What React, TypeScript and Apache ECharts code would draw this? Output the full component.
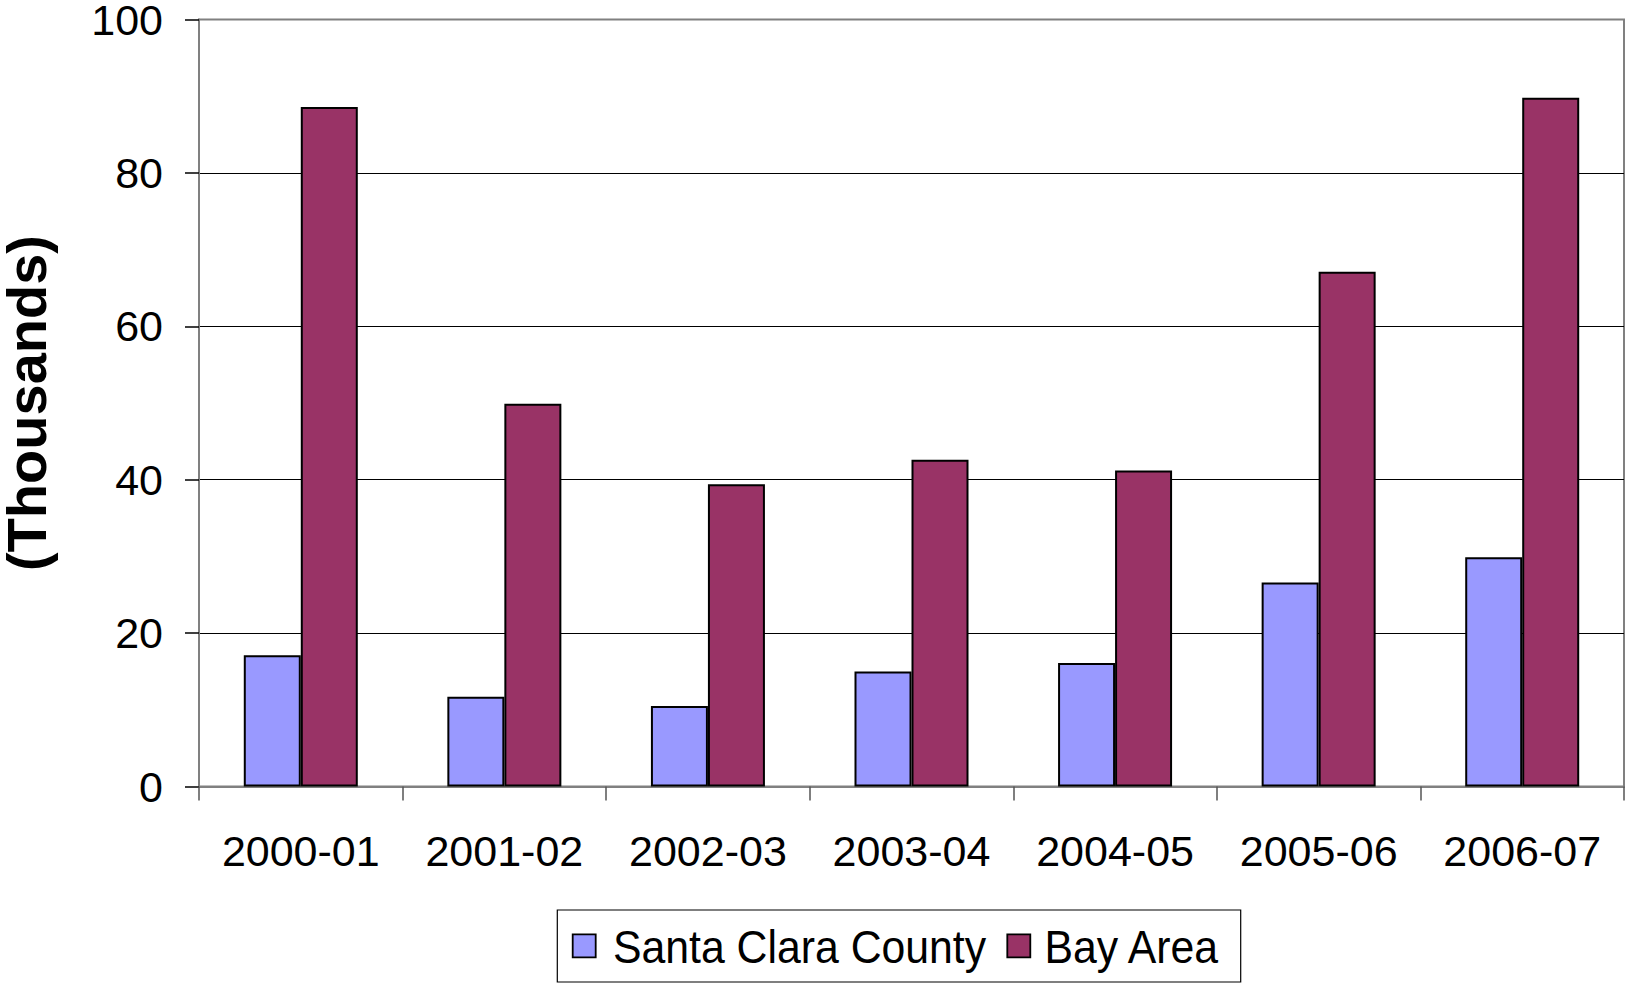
import React, { useEffect, useRef } from "react";
import * as echarts from "echarts";

const categories = ["2000-01", "2001-02", "2002-03", "2003-04", "2004-05", "2005-06", "2006-07"];
const santaClara = [17.1, 11.7, 10.5, 15.0, 16.1, 26.6, 29.9];
const bayArea = [88.6, 49.9, 39.4, 42.6, 41.2, 67.1, 89.8];
const seriesNames = ["Santa Clara County", "Bay Area"];
const seriesColors = ["#9999FF", "#993366"];
const yTicks = { min: 0, max: 100, interval: 20 };

const FONT = "'Liberation Sans', Arial, sans-serif";

export default function App() {
  const ref = useRef<HTMLDivElement>(null);
  useEffect(() => {
    if (!ref.current) return;
    const chart = echarts.init(ref.current, null, { renderer: "svg" });

    // Legend drawn as graphic elements
    const legendItems = [
      { iconX: 572.7, textX: 613 },
      { iconX: 1007.3, textX: 1044.5 },
    ];
    const legendGraphic: any[] = [
      {
        type: "rect",
        shape: { x: 557.3, y: 910, width: 683.4, height: 72 },
        style: { fill: "#fff", stroke: "#000", lineWidth: 1.2 },
        z: 10,
      },
    ];
    seriesNames.forEach((name, i) => {
      legendGraphic.push({
        type: "rect",
        shape: { x: legendItems[i].iconX, y: 934.3, width: 23, height: 23 },
        style: { fill: seriesColors[i], stroke: "#000", lineWidth: 1.8 },
        z: 11,
      });
      legendGraphic.push({
        type: "text",
        x: legendItems[i].textX,
        y: 947,
        scaleX: 0.94,
        style: {
          text: name,
          fill: "#000",
          font: `45.5px ${FONT}`,
          align: "left",
          verticalAlign: "middle",
        },
        z: 11,
      });
    });

    chart.setOption({
      animation: false,
      backgroundColor: "#ffffff",
      textStyle: { fontFamily: FONT },
      grid: {
        left: 199,
        top: 19.5,
        right: 1,
        height: 767,
        show: true,
        borderColor: "#808080",
        borderWidth: 2,
        containLabel: false,
        outerBoundsMode: "none",
      },
      graphic: legendGraphic,
      xAxis: {
        type: "category",
        data: categories,
        axisLine: { show: true, lineStyle: { color: "#808080", width: 2 } },
        axisTick: { show: true, length: 14, lineStyle: { color: "#555", width: 1.5 } },
        axisLabel: { fontSize: 43, color: "#000", margin: 43, interval: 0, fontFamily: FONT },
        splitLine: { show: false },
      },
      yAxis: {
        type: "value",
        min: yTicks.min,
        max: yTicks.max,
        interval: yTicks.interval,
        name: "(Thousands)",
        nameLocation: "middle",
        nameRotate: 90,
        nameGap: 144.5,
        nameTextStyle: { fontSize: 56, fontWeight: "bold", color: "#000", fontFamily: FONT },
        axisLine: { show: true, lineStyle: { color: "#808080", width: 2 } },
        axisTick: { show: true, length: 14, lineStyle: { color: "#000", width: 1.5 } },
        axisLabel: { fontSize: 43, color: "#000", margin: 36, fontFamily: FONT },
        splitLine: { show: true, showMinLine: false, showMaxLine: false, lineStyle: { color: "#000", width: 1 } },
      },
      series: [
        {
          name: seriesNames[0],
          type: "bar",
          data: santaClara,
          barGap: "0%",
          barCategoryGap: "44%",
          itemStyle: { color: seriesColors[0], borderColor: "#000", borderWidth: 2 },
        },
        {
          name: seriesNames[1],
          type: "bar",
          data: bayArea,
          barGap: "0%",
          barCategoryGap: "44%",
          itemStyle: { color: seriesColors[1], borderColor: "#000", borderWidth: 2 },
        },
      ],
    });
    return () => chart.dispose();
  }, []);
  return (
    <div
      ref={ref}
      style={{ position: "fixed", left: 0, top: 0, width: 1625, height: 984, background: "#fff" }}
    />
  );
}
